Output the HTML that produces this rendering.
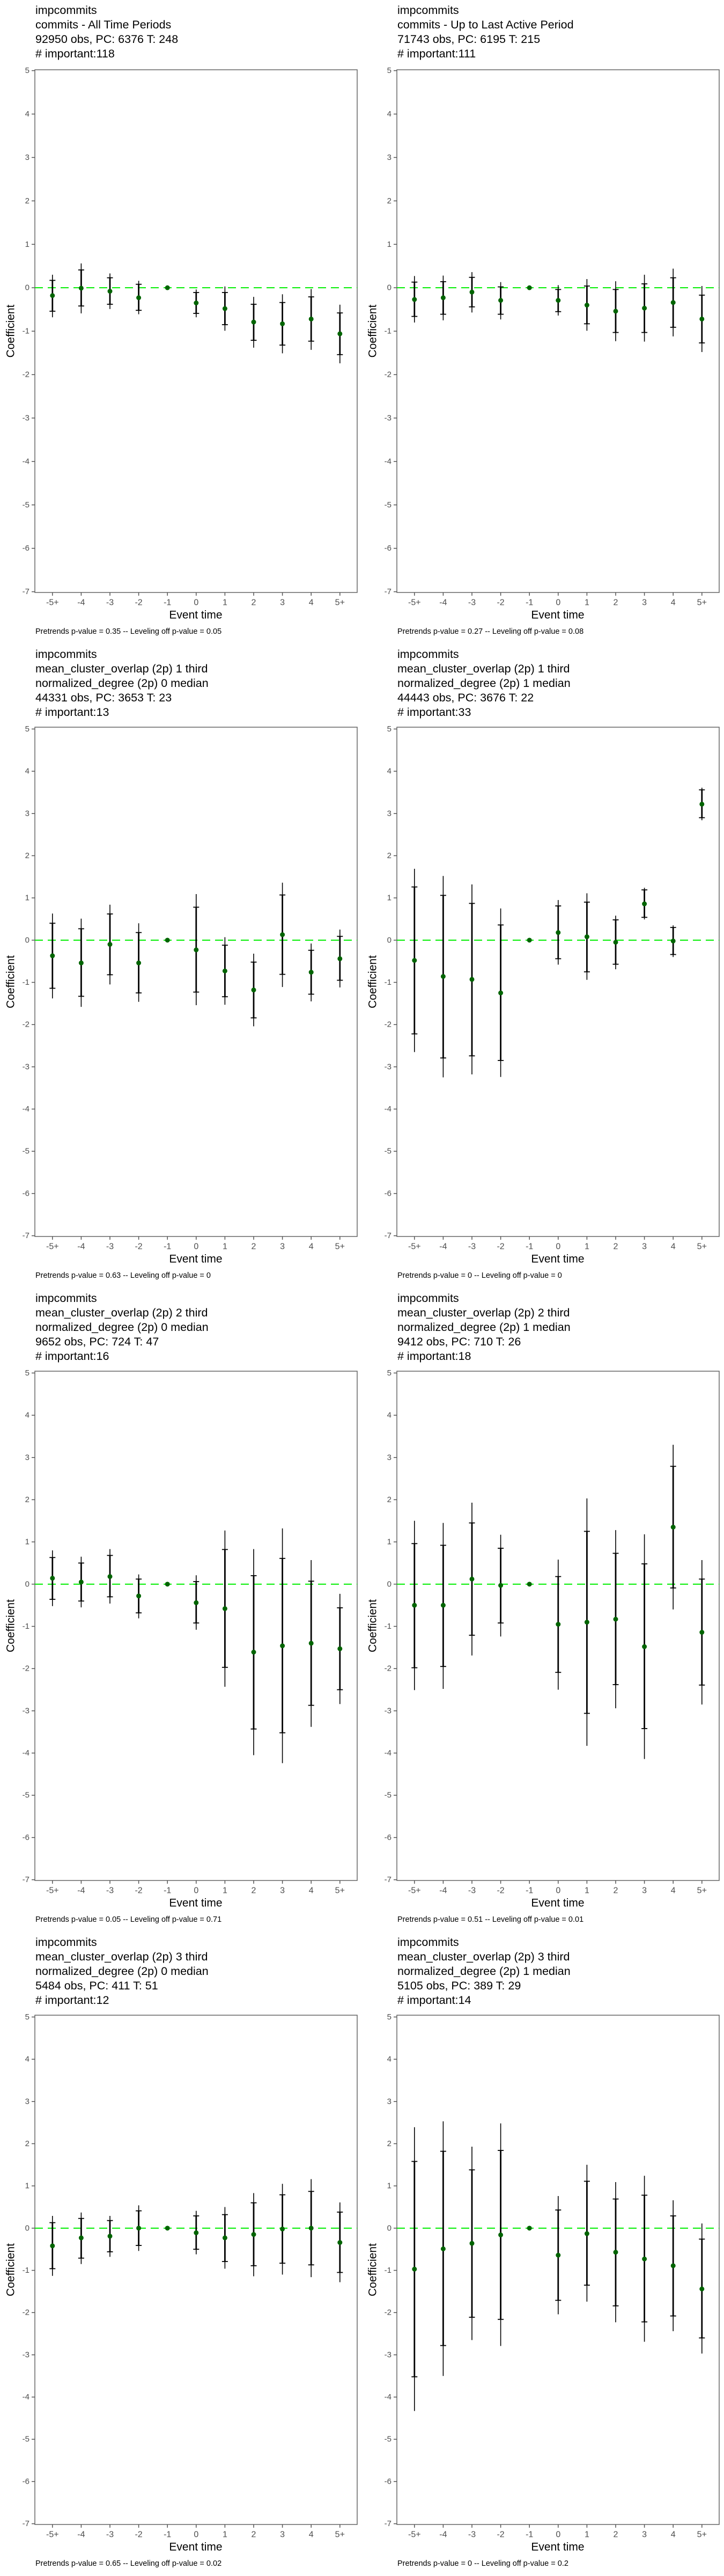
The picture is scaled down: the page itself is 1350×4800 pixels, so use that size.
<!DOCTYPE html>
<html><head><meta charset="utf-8"><title>impcommits event study</title>
<style>
html,body{margin:0;padding:0;background:#fff;}
svg{display:block;font-family:"Liberation Sans",Arial,sans-serif;}
</style></head>
<body>
<svg id="fig" width="1350" height="4800" viewBox="0 0 1350 4800" xmlns="http://www.w3.org/2000/svg"></svg>
<script>
const categories = ["-5+","-4","-3","-2","-1","0","1","2","3","4","5+"];
const yTicks = [5,4,3,2,1,0,-1,-2,-3,-4,-5,-6,-7];

const titles = [
 [" impcommits","commits - All Time Periods","92950 obs, PC: 6376 T: 248","# important:118"],
 [" impcommits","commits - Up to Last Active Period","71743 obs, PC: 6195 T: 215","# important:111"],
 [" impcommits","mean_cluster_overlap (2p) 1 third","normalized_degree (2p) 0 median","44331 obs, PC: 3653 T: 23","# important:13"],
 [" impcommits","mean_cluster_overlap (2p) 1 third","normalized_degree (2p) 1 median","44443 obs, PC: 3676 T: 22","# important:33"],
 [" impcommits","mean_cluster_overlap (2p) 2 third","normalized_degree (2p) 0 median","9652 obs, PC: 724 T: 47","# important:16"],
 [" impcommits","mean_cluster_overlap (2p) 2 third","normalized_degree (2p) 1 median","9412 obs, PC: 710 T: 26","# important:18"],
 [" impcommits","mean_cluster_overlap (2p) 3 third","normalized_degree (2p) 0 median","5484 obs, PC: 411 T: 51","# important:12"],
 [" impcommits","mean_cluster_overlap (2p) 3 third","normalized_degree (2p) 1 median","5105 obs, PC: 389 T: 29","# important:14"]
];
const footnotes = [
 "Pretrends p-value = 0.35 -- Leveling off p-value = 0.05",
 "Pretrends p-value = 0.27 -- Leveling off p-value = 0.08",
 "Pretrends p-value = 0.63 -- Leveling off p-value = 0",
 "Pretrends p-value = 0 -- Leveling off p-value = 0",
 "Pretrends p-value = 0.05 -- Leveling off p-value = 0.71",
 "Pretrends p-value = 0.51 -- Leveling off p-value = 0.01",
 "Pretrends p-value = 0.65 -- Leveling off p-value = 0.02",
 "Pretrends p-value = 0 -- Leveling off p-value = 0.2"
];

// panel 1
const p1Est  = [-0.18,-0.01,-0.08,-0.23,0,-0.35,-0.48,-0.79,-0.83,-0.72,-1.06];
const p1Hi95 = [0.30,0.56,0.33,0.16,0,-0.04,0.03,-0.21,-0.15,-0.03,-0.39];
const p1Hi90 = [0.17,0.41,0.23,0.08,0,-0.11,-0.11,-0.38,-0.34,-0.21,-0.58];
const p1Lo90 = [-0.54,-0.42,-0.38,-0.52,0,-0.59,-0.85,-1.21,-1.32,-1.23,-1.54];
const p1Lo95 = [-0.68,-0.59,-0.49,-0.61,0,-0.68,-0.99,-1.38,-1.51,-1.43,-1.74];
// panel 2
const p2Est  = [-0.27,-0.23,-0.10,-0.29,0,-0.29,-0.40,-0.54,-0.47,-0.34,-0.72];
const p2Hi95 = [0.27,0.28,0.36,0.13,0,0.06,0.20,0.15,0.30,0.44,0.04];
const p2Hi90 = [0.13,0.14,0.24,0.02,0,-0.04,0.04,-0.04,0.09,0.23,-0.17];
const p2Lo90 = [-0.66,-0.61,-0.44,-0.61,0,-0.55,-0.83,-1.03,-1.03,-0.91,-1.27];
const p2Lo95 = [-0.80,-0.75,-0.57,-0.73,0,-0.64,-0.99,-1.23,-1.24,-1.12,-1.48];
// panel 3
const p3Est  = [-0.37,-0.54,-0.10,-0.54,0,-0.23,-0.73,-1.18,0.13,-0.76,-0.44];
const p3Hi95 = [0.63,0.51,0.84,0.40,0,1.09,0.07,-0.32,1.36,-0.08,0.25];
const p3Hi90 = [0.40,0.27,0.62,0.18,0,0.78,-0.12,-0.52,1.07,-0.24,0.09];
const p3Lo90 = [-1.14,-1.33,-0.82,-1.25,0,-1.23,-1.34,-1.84,-0.81,-1.28,-0.95];
const p3Lo95 = [-1.38,-1.58,-1.05,-1.46,0,-1.54,-1.53,-2.04,-1.11,-1.45,-1.12];
// panel 4
const p4Est  = [-0.48,-0.86,-0.93,-1.25,0,0.18,0.08,-0.05,0.86,-0.02,3.22];
const p4Hi95 = [1.69,1.52,1.32,0.75,0,0.95,1.11,0.58,1.24,0.35,3.61];
const p4Hi90 = [1.26,1.06,0.87,0.36,0,0.81,0.90,0.48,1.19,0.30,3.56];
const p4Lo90 = [-2.22,-2.79,-2.74,-2.85,0,-0.44,-0.75,-0.57,0.54,-0.34,2.90];
const p4Lo95 = [-2.65,-3.25,-3.18,-3.24,0,-0.58,-0.94,-0.69,0.49,-0.40,2.84];
// panel 5
const p5Est  = [0.14,0.05,0.18,-0.28,0,-0.44,-0.58,-1.61,-1.46,-1.40,-1.53];
const p5Hi95 = [0.80,0.65,0.83,0.23,0,0.21,1.27,0.83,1.32,0.57,-0.23];
const p5Hi90 = [0.63,0.50,0.68,0.12,0,0.06,0.82,0.20,0.61,0.07,-0.56];
const p5Lo90 = [-0.36,-0.40,-0.30,-0.68,0,-0.92,-1.97,-3.43,-3.52,-2.87,-2.50];
const p5Lo95 = [-0.52,-0.55,-0.46,-0.81,0,-1.08,-2.43,-4.05,-4.24,-3.38,-2.84];
// panel 6
const p6Est  = [-0.50,-0.50,0.12,-0.03,0,-0.95,-0.90,-0.83,-1.48,1.35,-1.14];
const p6Hi95 = [1.50,1.45,1.93,1.17,0,0.58,2.03,1.28,1.18,3.30,0.57];
const p6Hi90 = [0.96,0.92,1.45,0.85,0,0.18,1.25,0.73,0.48,2.79,0.12];
const p6Lo90 = [-1.98,-1.95,-1.21,-0.92,0,-2.09,-3.06,-2.38,-3.42,-0.09,-2.39];
const p6Lo95 = [-2.51,-2.48,-1.69,-1.24,0,-2.50,-3.83,-2.94,-4.14,-0.60,-2.85];
// panel 7
const p7Est  = [-0.42,-0.23,-0.19,0,0,-0.11,-0.23,-0.15,-0.02,0,-0.34];
const p7Hi95 = [0.29,0.37,0.29,0.54,0,0.41,0.50,0.83,1.05,1.16,0.61];
const p7Hi90 = [0.13,0.23,0.18,0.41,0,0.29,0.32,0.60,0.79,0.87,0.38];
const p7Lo90 = [-0.96,-0.71,-0.56,-0.41,0,-0.50,-0.79,-0.89,-0.83,-0.87,-1.05];
const p7Lo95 = [-1.13,-0.85,-0.68,-0.54,0,-0.62,-0.96,-1.14,-1.10,-1.16,-1.28];
// panel 8
const p8Est  = [-0.97,-0.49,-0.36,-0.16,0,-0.64,-0.13,-0.57,-0.73,-0.89,-1.44];
const p8Hi95 = [2.39,2.53,1.93,2.48,0,0.76,1.50,1.09,1.24,0.66,0.11];
const p8Hi90 = [1.58,1.82,1.38,1.84,0,0.43,1.11,0.69,0.78,0.29,-0.26];
const p8Lo90 = [-3.52,-2.78,-2.11,-2.16,0,-1.71,-1.35,-1.84,-2.22,-2.08,-2.60];
const p8Lo95 = [-4.33,-3.50,-2.65,-2.79,0,-2.04,-1.74,-2.23,-2.69,-2.44,-2.97];

const panelSeries = [
 [p1Est,p1Hi95,p1Hi90,p1Lo90,p1Lo95],
 [p2Est,p2Hi95,p2Hi90,p2Lo90,p2Lo95],
 [p3Est,p3Hi95,p3Hi90,p3Lo90,p3Lo95],
 [p4Est,p4Hi95,p4Hi90,p4Lo90,p4Lo95],
 [p5Est,p5Hi95,p5Hi90,p5Lo90,p5Lo95],
 [p6Est,p6Hi95,p6Hi90,p6Lo90,p6Lo95],
 [p7Est,p7Hi95,p7Hi90,p7Lo90,p7Lo95],
 [p8Est,p8Hi95,p8Hi90,p8Lo90,p8Lo95]
];

const NS = "http://www.w3.org/2000/svg";
const svg = document.getElementById("fig");
function mk(tag, attrs, parent){
  const e = document.createElementNS(NS, tag);
  for (const k in attrs) e.setAttribute(k, attrs[k]);
  (parent||svg).appendChild(e);
  return e;
}

for (let p = 0; p < 8; p++){
  const col = p % 2, row = Math.floor(p / 2);
  const ox = col * 675, oy = row * 1200;
  const nLines = titles[p].length;
  const plotTop = nLines === 4 ? 130 : 155;
  const y5 = nLines === 4 ? 131.6 : 158.4;
  const yM7 = 1102.6;
  const plotLeft = 65, plotRight = 666, plotBottom = 1104;
  const yScale = v => oy + y5 + (5 - v) * (yM7 - y5) / 12;
  const xScale = i => ox + 97.8 + i * 53.6;

  const g = mk("g", {});
  
  

  const tg = mk("g", {}, g);
  
  
  titles[p].forEach((line, li) => {
    const t = mk("text", {x: ox + 66, y: oy + 19 + li * 27, "font-size": 21.5, fill: "#000", "dominant-baseline": "central", "xml:space": "preserve"}, tg);
    
    
    t.textContent = line;
  });

  const fr = mk("rect", {x: ox + plotLeft, y: oy + plotTop, width: plotRight - plotLeft, height: plotBottom - plotTop, fill: "none", stroke: "#666", "stroke-width": 1.5}, g);
  
  

  yTicks.forEach(v => {
    const y = yScale(v);
    const tk = mk("line", {x1: ox + 59, x2: ox + plotLeft, y1: y, y2: y, stroke: "#555", "stroke-width": 1.5}, g);
    
    
    const lb = mk("text", {x: ox + 55, y: y, "font-size": 15, fill: "#4d4d4d", "text-anchor": "end", "dominant-baseline": "central"}, g);
    
    
    lb.textContent = String(v);
  });

  categories.forEach((c, i) => {
    const x = xScale(i);
    const tk = mk("line", {x1: x, x2: x, y1: oy + plotBottom, y2: oy + plotBottom + 6, stroke: "#555", "stroke-width": 1.5}, g);
    
    
    const lb = mk("text", {x: x, y: oy + 1123, "font-size": 16, fill: "#4d4d4d", "text-anchor": "middle", "dominant-baseline": "central"}, g);
    
    
    lb.textContent = c;
  });

  const xt = mk("text", {x: ox + 365, y: oy + 1146, "font-size": 21, fill: "#000", "text-anchor": "middle", "dominant-baseline": "central"}, g);
  
  
  xt.textContent = "Event time";
  const ymid = oy + (plotTop + plotBottom) / 2;
  const yt = mk("text", {x: ox + 20, y: ymid, "font-size": 21, fill: "#000", "text-anchor": "middle", "dominant-baseline": "central", transform: "rotate(-90 " + (ox + 20) + " " + ymid + ")"}, g);
  
  
  yt.textContent = "Coefficient";

  const fn = mk("text", {x: ox + 66, y: oy + 1177, "font-size": 14.5, fill: "#000", "dominant-baseline": "central"}, g);
  
  
  fn.textContent = footnotes[p];

  const zl = mk("line", {x1: ox + plotLeft, x2: ox + plotRight, y1: yScale(0), y2: yScale(0), stroke: "#00ee00", "stroke-width": 2, "stroke-dasharray": "15 9"}, g);
  
  

  const [est, hi95, hi90, lo90, lo95] = panelSeries[p];
  categories.forEach((c, i) => {
    const x = xScale(i);
    const eg = mk("g", {}, g);
    
    
    if (hi95[i] !== lo95[i]) {
      const outer = mk("line", {x1: x, x2: x, y1: yScale(hi95[i]), y2: yScale(lo95[i]), stroke: "#000", "stroke-width": 1.6}, eg);
      
      
      const inner = mk("line", {x1: x, x2: x, y1: yScale(hi90[i]), y2: yScale(lo90[i]), stroke: "#000", "stroke-width": 2.8}, eg);
      
      
      [hi90[i], lo90[i]].forEach(v => {
        const cap = mk("line", {x1: x - 5.5, x2: x + 5.5, y1: yScale(v), y2: yScale(v), stroke: "#000", "stroke-width": 1.8}, eg);
        
        
      });
    }
    const pt = mk("ellipse", {cx: x, cy: yScale(est[i]), rx: 4.5, ry: 4.5, fill: "#006400"}, eg);
    
    
  });
}
</script>
</body></html>
